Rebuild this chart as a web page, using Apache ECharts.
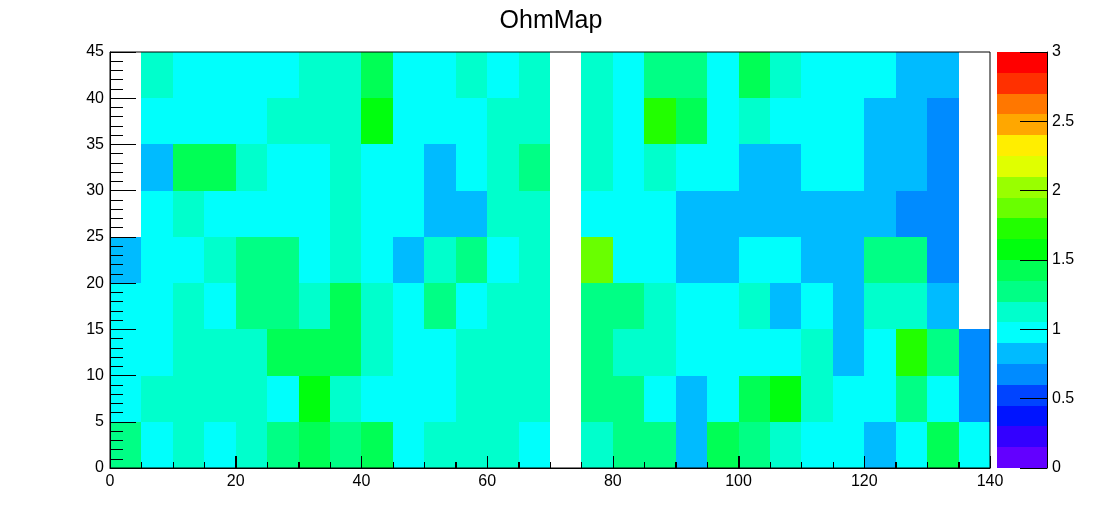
<!DOCTYPE html>
<html>
<head>
<meta charset="utf-8">
<script src="https://cdn.jsdelivr.net/npm/echarts@6/dist/echarts.min.js"></script>
<style>
html,body{margin:0;padding:0;background:#fff;}
#chart{width:1102px;height:522px;}
</style>
</head>
<body>
<div id="chart"></div>
<script>
// ---- data ----
const chartTitle = 'OhmMap';
const binWidth = 5;
const xBinStarts = [0,5,10,15,20,25,30,35,40,45,50,55,60,65,70,75,80,85,90,95,100,105,110,115,120,125,130,135];
const yBinStarts = [0,5,10,15,20,25,30,35,40];
// one array per y bin (bottom to top), 28 x bins each; null = empty bin
const ohm_y00 = [1.28,0.97,1.12,0.97,1.12,1.28,1.42,1.28,1.42,0.97,1.12,1.12,1.12,0.97,null,1.12,1.28,1.28,0.82,1.42,1.28,1.12,0.97,0.97,0.82,0.97,1.42,0.97];
const ohm_y05 = [0.97,1.12,1.12,1.12,1.12,0.97,1.57,1.12,0.97,0.97,0.97,1.12,1.12,1.12,null,1.28,1.28,0.97,0.82,0.97,1.42,1.57,1.12,0.97,0.97,1.28,0.97,0.67];
const ohm_y10 = [0.97,0.97,1.12,1.12,1.12,1.42,1.42,1.42,1.12,0.97,0.97,1.12,1.12,1.12,null,1.28,1.12,1.12,0.97,0.97,0.97,0.97,1.12,0.82,0.97,1.72,1.28,0.67];
const ohm_y15 = [0.97,0.97,1.12,0.97,1.28,1.28,1.12,1.42,1.12,0.97,1.28,0.97,1.12,1.12,null,1.28,1.28,1.12,0.97,0.97,1.12,0.82,0.97,0.82,1.12,1.12,0.82,null];
const ohm_y20 = [0.82,0.97,0.97,1.12,1.28,1.28,0.97,1.12,0.97,0.82,1.12,1.28,0.97,1.12,null,1.87,0.97,0.97,0.82,0.82,0.97,0.97,0.82,0.82,1.28,1.28,0.67,null];
const ohm_y25 = [null,0.97,1.12,0.97,0.97,0.97,0.97,1.12,0.97,0.97,0.82,0.82,1.12,1.12,null,0.97,0.97,0.97,0.82,0.82,0.82,0.82,0.82,0.82,0.82,0.67,0.67,null];
const ohm_y30 = [null,0.82,1.42,1.42,1.12,0.97,0.97,1.12,0.97,0.97,0.82,0.97,1.12,1.28,null,1.12,0.97,1.12,0.97,0.97,0.82,0.82,0.97,0.97,0.82,0.82,0.67,null];
const ohm_y35 = [null,0.97,0.97,0.97,0.97,1.12,1.12,1.12,1.57,0.97,0.97,0.97,1.12,1.12,null,1.12,0.97,1.72,1.42,0.97,1.12,0.97,0.97,0.97,0.82,0.82,0.67,null];
const ohm_y40 = [null,1.12,0.97,0.97,0.97,0.97,1.12,1.12,1.42,0.97,0.97,1.12,0.97,1.12,null,1.12,0.97,1.28,1.28,0.97,1.42,1.12,0.97,0.97,0.97,0.82,0.82,null];
const ohmRows = [ohm_y00, ohm_y05, ohm_y10, ohm_y15, ohm_y20, ohm_y25, ohm_y30, ohm_y35, ohm_y40];

const xAxisRange = [0, 140];
const yAxisRange = [0, 45];
const zAxisRange = [0, 3];
const xTickValues = [0,5,10,15,20,25,30,35,40,45,50,55,60,65,70,75,80,85,90,95,100,105,110,115,120,125,130,135,140];
const xMajorStep = 20;
const zLevelEdges = [0,0.15,0.3,0.45,0.6,0.75,0.9,1.05,1.2,1.35,1.5,1.65,1.8,1.95,2.1,2.25,2.4,2.55,2.7,2.85,3.0];
const paletteColors = ['#6300ff','#3300ff','#0014ff','#0044ff','#008bff','#00bbff','#00fffc','#00ffcc','#00ff85','#00ff55',
                       '#00ff0e','#22ff00','#69ff00','#99ff00','#e0ff00','#ffee00','#ffa700','#ff7700','#ff3000','#ff0000'];

// ---- build series data ----
const cellData = [];
ohmRows.forEach((row, r) => {
  row.forEach((v, c) => {
    if (v !== null) cellData.push([xBinStarts[c], yBinStarts[r], v]);
  });
});
const barData = paletteColors.map((col, i) => [zLevelEdges[i], zLevelEdges[i + 1], i]);
const xTickData = xTickValues.map(v => [v, yAxisRange[0]]);

const pieces = paletteColors.map((col, i) => ({gte: zLevelEdges[i], lt: zLevelEdges[i + 1], color: col}));
pieces[pieces.length - 1].lte = zLevelEdges[zLevelEdges.length - 1];
delete pieces[pieces.length - 1].lt;

const FONT = 'Liberation Sans';
const chart = echarts.init(document.getElementById('chart'), null, {renderer: 'canvas'});

function rectFromCoords(a, b) {
  const x = Math.round(a[0]), y = Math.round(a[1]);
  return {x: x, y: y, width: Math.round(b[0]) - x, height: Math.round(b[1]) - y};
}

const tickStyle = {color: '#000', width: 1, opacity: 1};

chart.setOption({
  animation: false,
  backgroundColor: '#fff',
  title: {
    text: chartTitle, left: 'center', top: 4,
    textStyle: {fontFamily: FONT, fontSize: 25, fontWeight: 'normal', color: '#000'}
  },
  grid: [
    {left: 110, top: 52, width: 880, height: 416, show: true, borderColor: '#000', borderWidth: 1, backgroundColor: 'transparent', z: 10},
    {left: 997, top: 52, width: 50, height: 416, show: false}
  ],
  visualMap: {
    type: 'piecewise', show: false, dimension: 2, seriesIndex: 0, pieces: pieces
  },
  xAxis: [
    {
      gridIndex: 0, type: 'value', position: 'bottom', min: xAxisRange[0], max: xAxisRange[1], interval: 20, z: 10,
      axisLine: {show: true, onZero: false, lineStyle: tickStyle},
      axisTick: {show: true, inside: true, length: 12, lineStyle: tickStyle},
      minorTick: {show: true, splitNumber: 4, length: 6, lineStyle: tickStyle},
      splitLine: {show: false},
      minorSplitLine: {show: false},
      axisLabel: {show: true, color: '#000', fontFamily: FONT, fontSize: 16, margin: 6}
    },
    {gridIndex: 1, type: 'value', min: 0, max: 1, show: false}
  ],
  yAxis: [
    {
      gridIndex: 0, type: 'value', min: yAxisRange[0], max: yAxisRange[1], interval: 5, z: 10,
      axisLine: {show: true, onZero: false, lineStyle: tickStyle},
      axisTick: {show: true, inside: true, length: 26, lineStyle: tickStyle},
      minorTick: {show: true, splitNumber: 5, length: 13, lineStyle: tickStyle},
      splitLine: {show: false},
      minorSplitLine: {show: false},
      axisLabel: {color: '#000', fontFamily: FONT, fontSize: 16, margin: 6}
    },
    {
      gridIndex: 1, type: 'value', position: 'right', min: zAxisRange[0], max: zAxisRange[1], interval: 0.5, z: 10,
      axisLine: {show: true, onZero: false, lineStyle: tickStyle},
      axisTick: {show: true, inside: true, length: 27, lineStyle: tickStyle},
      splitLine: {show: false},
      axisLabel: {color: '#000', fontFamily: FONT, fontSize: 16, margin: 5}
    }
  ],
  series: [
    {
      type: 'custom', xAxisIndex: 0, yAxisIndex: 0, data: cellData, z: 1,
      encode: {x: 0, y: 1},
      renderItem: function (params, api) {
        const x0 = api.value(0), y0 = api.value(1);
        const a = api.coord([x0, y0 + binWidth]);
        const b = api.coord([x0 + binWidth, y0]);
        return {type: 'rect', shape: rectFromCoords(a, b), style: {fill: api.visual('color'), stroke: null}};
      }
    },
    {
      type: 'custom', xAxisIndex: 1, yAxisIndex: 1, data: barData, z: 1,
      encode: {y: [0, 1]},
      renderItem: function (params, api) {
        const lo = api.value(0), hi = api.value(1), idx = api.value(2);
        const a = api.coord([0, hi]);
        const b = api.coord([1, lo]);
        return {type: 'rect', shape: rectFromCoords(a, b), style: {fill: paletteColors[idx], stroke: null}};
      }
    },
    {
      // x-axis tick marks, drawn as thin filled bars upward from the frame (major every 20, minor every 5)
      type: 'custom', xAxisIndex: 0, yAxisIndex: 0, data: xTickData, z: 30, clip: false, silent: true,
      encode: {x: 0, y: 1},
      renderItem: function (params, api) {
        const v = api.value(0);
        const p = api.coord([v, api.value(1)]);
        const len = (v % xMajorStep === 0) ? 12 : 6;
        const x = Math.round(p[0]);
        const y = Math.round(p[1]);
        return {
          type: 'rect', z2: 100,
          shape: {x: x, y: y - len, width: 1, height: len},
          style: {fill: '#000', stroke: null}
        };
      }
    }
  ]
});
</script>
</body>
</html>
